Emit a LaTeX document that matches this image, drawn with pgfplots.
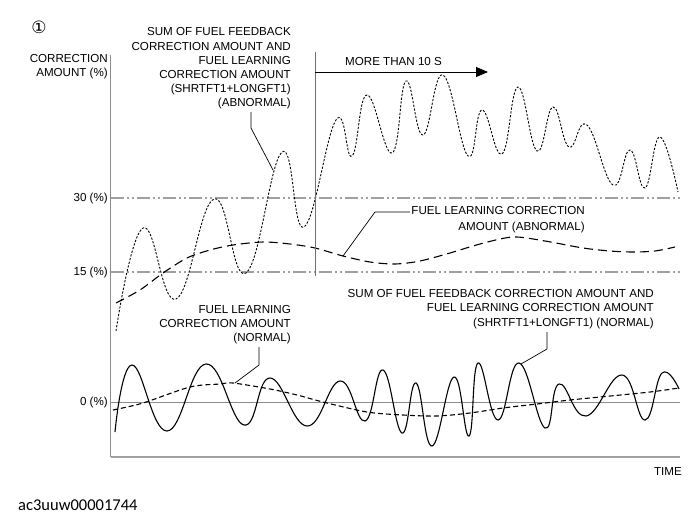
\documentclass[border=0pt]{standalone}
\usepackage{pgfplots}
\pgfplotsset{compat=1.18}
\usetikzlibrary{arrows.meta}
\usepackage{fontspec}
\setmainfont{Liberation Sans}
\newfontfamily\dejavu{DejaVu Sans}
\newfontfamily\carlito{Carlito}
\newcommand\lbl{\fontsize{11.6}{14.2}\selectfont}
\definecolor{axgray}{HTML}{8C8C8C}
\definecolor{refgray}{HTML}{A0A0A0}
\begin{document}
\begin{tikzpicture}
\begin{axis}[
  scale only axis, width=569pt, height=402pt,
  xmin=111, xmax=680, ymin=71, ymax=473,
  axis lines=left,
  axis line style={-},
  x axis line style={-, draw=refgray, line width=1.4pt},
  y axis line style={-, draw=axgray, line width=1pt},
  xtick=\empty,
  ytick={330,256,126},
  yticklabels={30 (\%),15 (\%),0 (\%)},
  major tick length=0pt,
  yticklabel style={font=\lbl, inner sep=0pt, xshift=-3pt},
  clip=false,
]
% invisible frame for the full picture size
\path (axis cs:0,0) rectangle (axis cs:700,528);

% reference lines
\addplot[refgray, line width=1.3pt, dash pattern=on 13pt off 3pt on 2pt off 3pt on 2pt off 3pt] coordinates {(111,330) (680,330)};
\addplot[refgray, line width=1.3pt, dash pattern=on 13pt off 3pt on 2pt off 3pt on 2pt off 3pt] coordinates {(111,256) (680,256)};
\addplot[axgray, line width=0.9pt] coordinates {(111,126) (680,126)};

% abnormal sum (SHRTFT1+LONGFT1)
\addplot[black, line width=0.9pt, dash pattern=on 2.2pt off 1.6pt, smooth, tension=0.75] coordinates {
(116,197) (143,300) (176,229) (214,329) (246,255) (282,376) (304,301) (336,408) (352,372) (367,433) (392,375) (406,447) (423,393) (443,453) (468,372) (482,418) (502,374) (518,441) (537,377) (553,421) (569,381) (587,403) (613,343) (630,378) (645,340) (660,391) (678,336)
};

% abnormal learning
\addplot[black, line width=1.1pt, dash pattern=on 9pt off 5pt, smooth] coordinates {
(116,225) (140,238) (163,255) (187,270) (210,278) (233,283) (263,286) (290,284) (315,280) (343,272) (370,266) (395,264) (420,267) (450,275) (480,284) (513,291) (545,287) (583,280) (610,277) (633,276) (655,277) (675,281)
};

% normal sum
\addplot[black, line width=1.1pt, smooth, tension=0.75] coordinates {
(115,96) (132,163) (167,97) (206,164) (244,103) (270,150) (307,102) (340,147) (365,107) (383,158) (402,95) (416,145) (432,82) (454,151) (469,92) (478,165) (498,108) (519,165) (545,100) (559,144) (586,112) (622,153) (645,108) (662,155) (679,139)
};

% normal learning
\addplot[black, line width=1.1pt, dash pattern=on 5pt off 3pt, smooth] coordinates {
(113,118) (143,125) (190,141) (220,144) (233,145) (270,139) (297,133) (323,126) (367,116) (403,113) (437,112) (470,115) (503,120) (537,124) (570,128) (600,131) (650,136) (679,140)
};

% time marker and arrow
\draw[axgray!80!black, line width=0.9pt] (axis cs:315,476) -- (axis cs:315,252);
\draw[black, line width=0.9pt, -{Triangle[length=12pt,width=10pt]}] (axis cs:315,456) -- (axis cs:488,456);
\node[anchor=west, inner sep=0pt, font=\lbl] at (axis cs:345,466) {MORE THAN 10 S};

% leaders
\draw[black, line width=0.7pt] (axis cs:251,416) -- (axis cs:251,400) -- (axis cs:273,358);
\draw[black, line width=0.7pt] (axis cs:410,316) -- (axis cs:375,316) -- (axis cs:343,272);
\draw[black, line width=0.7pt] (axis cs:259,181) -- (axis cs:259,163) -- (axis cs:235,145);
\draw[black, line width=0.7pt] (axis cs:547,196) -- (axis cs:547,179) -- (axis cs:521,164);

% annotation texts
\node[anchor=east, inner sep=0pt, align=right, font=\lbl] at (axis cs:291,459.5) {SUM OF FUEL FEEDBACK\\CORRECTION AMOUNT AND\\FUEL LEARNING\\CORRECTION AMOUNT\\(SHRTFT1+LONGFT1)\\(ABNORMAL)};
\node[anchor=east, inner sep=0pt, align=right, font=\fontsize{11.6}{16}\selectfont] at (axis cs:585,308) {FUEL LEARNING CORRECTION\\AMOUNT (ABNORMAL)};
\node[anchor=east, inner sep=0pt, align=right, font=\lbl] at (axis cs:291,203.5) {FUEL LEARNING\\CORRECTION AMOUNT\\(NORMAL)};
\node[anchor=east, inner sep=0pt, align=right, font=\lbl] at (axis cs:654,219) {SUM OF FUEL FEEDBACK CORRECTION AMOUNT AND\\FUEL LEARNING CORRECTION AMOUNT\\(SHRTFT1+LONGFT1) (NORMAL)};

% axis labels
\node[anchor=east, inner sep=0pt, align=right, font=\lbl] at (axis cs:108,461) {CORRECTION\\AMOUNT (\%)};
\node[inner sep=0pt, font=\lbl] at (axis cs:668,56) {TIME};

% extras
\node[inner sep=0pt, font=\dejavu\fontsize{17}{17}\selectfont] at (axis cs:39,501) {①};
\node[anchor=west, inner sep=0pt, font=\carlito\fontsize{16.5}{18}\selectfont] at (axis cs:18,23) {ac3uuw00001744};
\end{axis}
\end{tikzpicture}
\end{document}
